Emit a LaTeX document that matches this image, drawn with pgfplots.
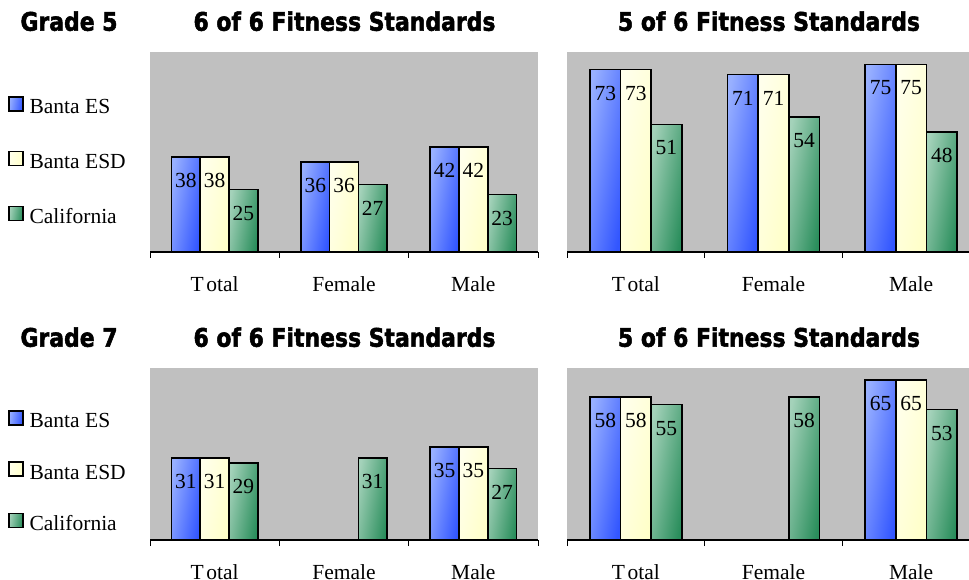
\documentclass[border=0pt]{standalone}
\usepackage{fontspec}
\setmainfont{Liberation Serif}
\newfontfamily\titlefont{DejaVu Sans}[BoldFeatures={FakeBold=2.2}]
\usepackage{pgfplots}
\pgfplotsset{compat=1.18}

\definecolor{plotgrey}{RGB}{192,192,192}
\definecolor{esLight}{RGB}{152,176,255}
\definecolor{esDark}{RGB}{50,86,255}
\definecolor{esdLight}{RGB}{255,255,236}
\definecolor{esdDark}{RGB}{255,255,200}
\definecolor{caLight}{RGB}{164,210,186}
\definecolor{caDark}{RGB}{42,142,92}

\newcommand\lblfont{\fontsize{21.5}{24}\selectfont}
\newcommand\ttlfont{\titlefont\bfseries\fontsize{25.5}{30}\selectfont}

% every bar is its own plot, so that each one gets its own gradient
\pgfplotsset{
  sqlegend/.style={legend image code/.code={%
      \draw[##1, line width=1.4pt] (0pt,-2pt) rectangle (14pt,12pt);}},
  onebar/.style={ybar, bar width=0.2222, bar shift=#1, draw=black, line width=1.6pt,
      sqlegend,
      every node near coord/.append style={shift={(axis direction cs:#1,0)}}},
  barES/.style={onebar=-0.2222, top color=esLight, bottom color=esDark, shading angle=80},
  barESD/.style={onebar=0, top color=esdLight, bottom color=esdDark, shading angle=80},
  barCA/.style={onebar=0.2222, top color=caLight, bottom color=caDark, shading angle=80},
  panel/.style={
    scale only axis,
    xmin=-0.5, xmax=2.5, ymin=0,
    axis background/.style={fill=plotgrey},
    axis x line*=bottom, axis y line=none,
    x axis line style={-, line width=1.2pt, black},
    xtick={0,1,2}, xticklabels={T\kern2.5pt otal,Female,Male},
    major x tick style={draw=none},
    minor xtick={-0.5,0.5,1.5,2.5},
    minor x tick style={black, line width=0.8pt},
    minor tick length=6pt, xtick align=outside,
    xticklabel style={font=\lblfont, anchor=base, yshift=-35pt},
    nodes near coords,
    every node near coord/.append style={font=\lblfont, anchor=center, yshift=-23.5pt, text=black},
    /pgf/number format/assume math mode=true,
    clip=false,
  },
  sidelegend/.style={
    legend cell align=left,
    legend style={at={(axis description cs:-0.366,#1)}, anchor=north west,
      draw=none, fill=none, inner sep=0pt, font=\lblfont,
      nodes={inner sep=0pt, text height=15pt, text depth=5pt},
      /tikz/every odd column/.append style={column sep=6pt}},
  },
}

\begin{document}
\begin{tikzpicture}
\path[use as bounding box] (0pt,0pt) rectangle (969pt,579pt);
\clip (0pt,0pt) rectangle (969pt,579pt);

% Grade 5, all six standards
\begin{axis}[panel, at={(150pt,327pt)}, anchor=south west, width=388pt, height=200pt,
  ymax=80, sidelegend=0.78, legend style={row sep=32pt}]
  \addplot[barES]  coordinates {(0,38)};
  \addplot[barESD] coordinates {(0,38)};
  \addplot[barCA]  coordinates {(0,25)};
  \legend{Banta ES, Banta ESD, California}
  \addplot[barES]  coordinates {(1,36)};
  \addplot[barESD] coordinates {(1,36)};
  \addplot[barCA]  coordinates {(1,27)};
  \addplot[barES]  coordinates {(2,42)};
  \addplot[barESD] coordinates {(2,42)};
  \addplot[barCA]  coordinates {(2,23)};
\end{axis}

% Grade 5, five of six standards
\begin{axis}[panel, at={(567pt,327pt)}, anchor=south west, width=413pt, height=200pt,
  ymax=80]
  \addplot[barES]  coordinates {(0,73)};
  \addplot[barESD] coordinates {(0,73)};
  \addplot[barCA]  coordinates {(0,51)};
  \addplot[barES]  coordinates {(1,71)};
  \addplot[barESD] coordinates {(1,71)};
  \addplot[barCA]  coordinates {(1,54)};
  \addplot[barES]  coordinates {(2,75)};
  \addplot[barESD] coordinates {(2,75)};
  \addplot[barCA]  coordinates {(2,48)};
\end{axis}

% Grade 7, all six standards (no Banta figures for female pupils)
\begin{axis}[panel, at={(150pt,39pt)}, anchor=south west, width=388pt, height=172.3pt,
  ymax=65, sidelegend=0.755, legend style={row sep=28.5pt}]
  \addplot[barES]  coordinates {(0,31)};
  \addplot[barESD] coordinates {(0,31)};
  \addplot[barCA]  coordinates {(0,29)};
  \legend{Banta ES, Banta ESD, California}
  \addplot[barCA]  coordinates {(1,31)};
  \addplot[barES]  coordinates {(2,35)};
  \addplot[barESD] coordinates {(2,35)};
  \addplot[barCA]  coordinates {(2,27)};
\end{axis}

% Grade 7, five of six standards
\begin{axis}[panel, at={(567pt,39pt)}, anchor=south west, width=413pt, height=172.3pt,
  ymax=70]
  \addplot[barES]  coordinates {(0,58)};
  \addplot[barESD] coordinates {(0,58)};
  \addplot[barCA]  coordinates {(0,55)};
  \addplot[barCA]  coordinates {(1,58)};
  \addplot[barES]  coordinates {(2,65)};
  \addplot[barESD] coordinates {(2,65)};
  \addplot[barCA]  coordinates {(2,53)};
\end{axis}

% headings
\node[anchor=base, inner sep=0pt, font=\ttlfont] at (69pt,548.3pt) {\scalebox{0.86}[1]{Grade 5}};
\node[anchor=base, inner sep=0pt, font=\ttlfont] at (344.5pt,548.3pt) {\scalebox{0.86}[1]{6 of 6 Fitness Standards}};
\node[anchor=base, inner sep=0pt, font=\ttlfont] at (769pt,548.3pt) {\scalebox{0.86}[1]{5 of 6 Fitness Standards}};
\node[anchor=base, inner sep=0pt, font=\ttlfont] at (69pt,232.3pt) {\scalebox{0.86}[1]{Grade 7}};
\node[anchor=base, inner sep=0pt, font=\ttlfont] at (344.5pt,232.3pt) {\scalebox{0.86}[1]{6 of 6 Fitness Standards}};
\node[anchor=base, inner sep=0pt, font=\ttlfont] at (769pt,232.3pt) {\scalebox{0.86}[1]{5 of 6 Fitness Standards}};
\end{tikzpicture}
\end{document}
